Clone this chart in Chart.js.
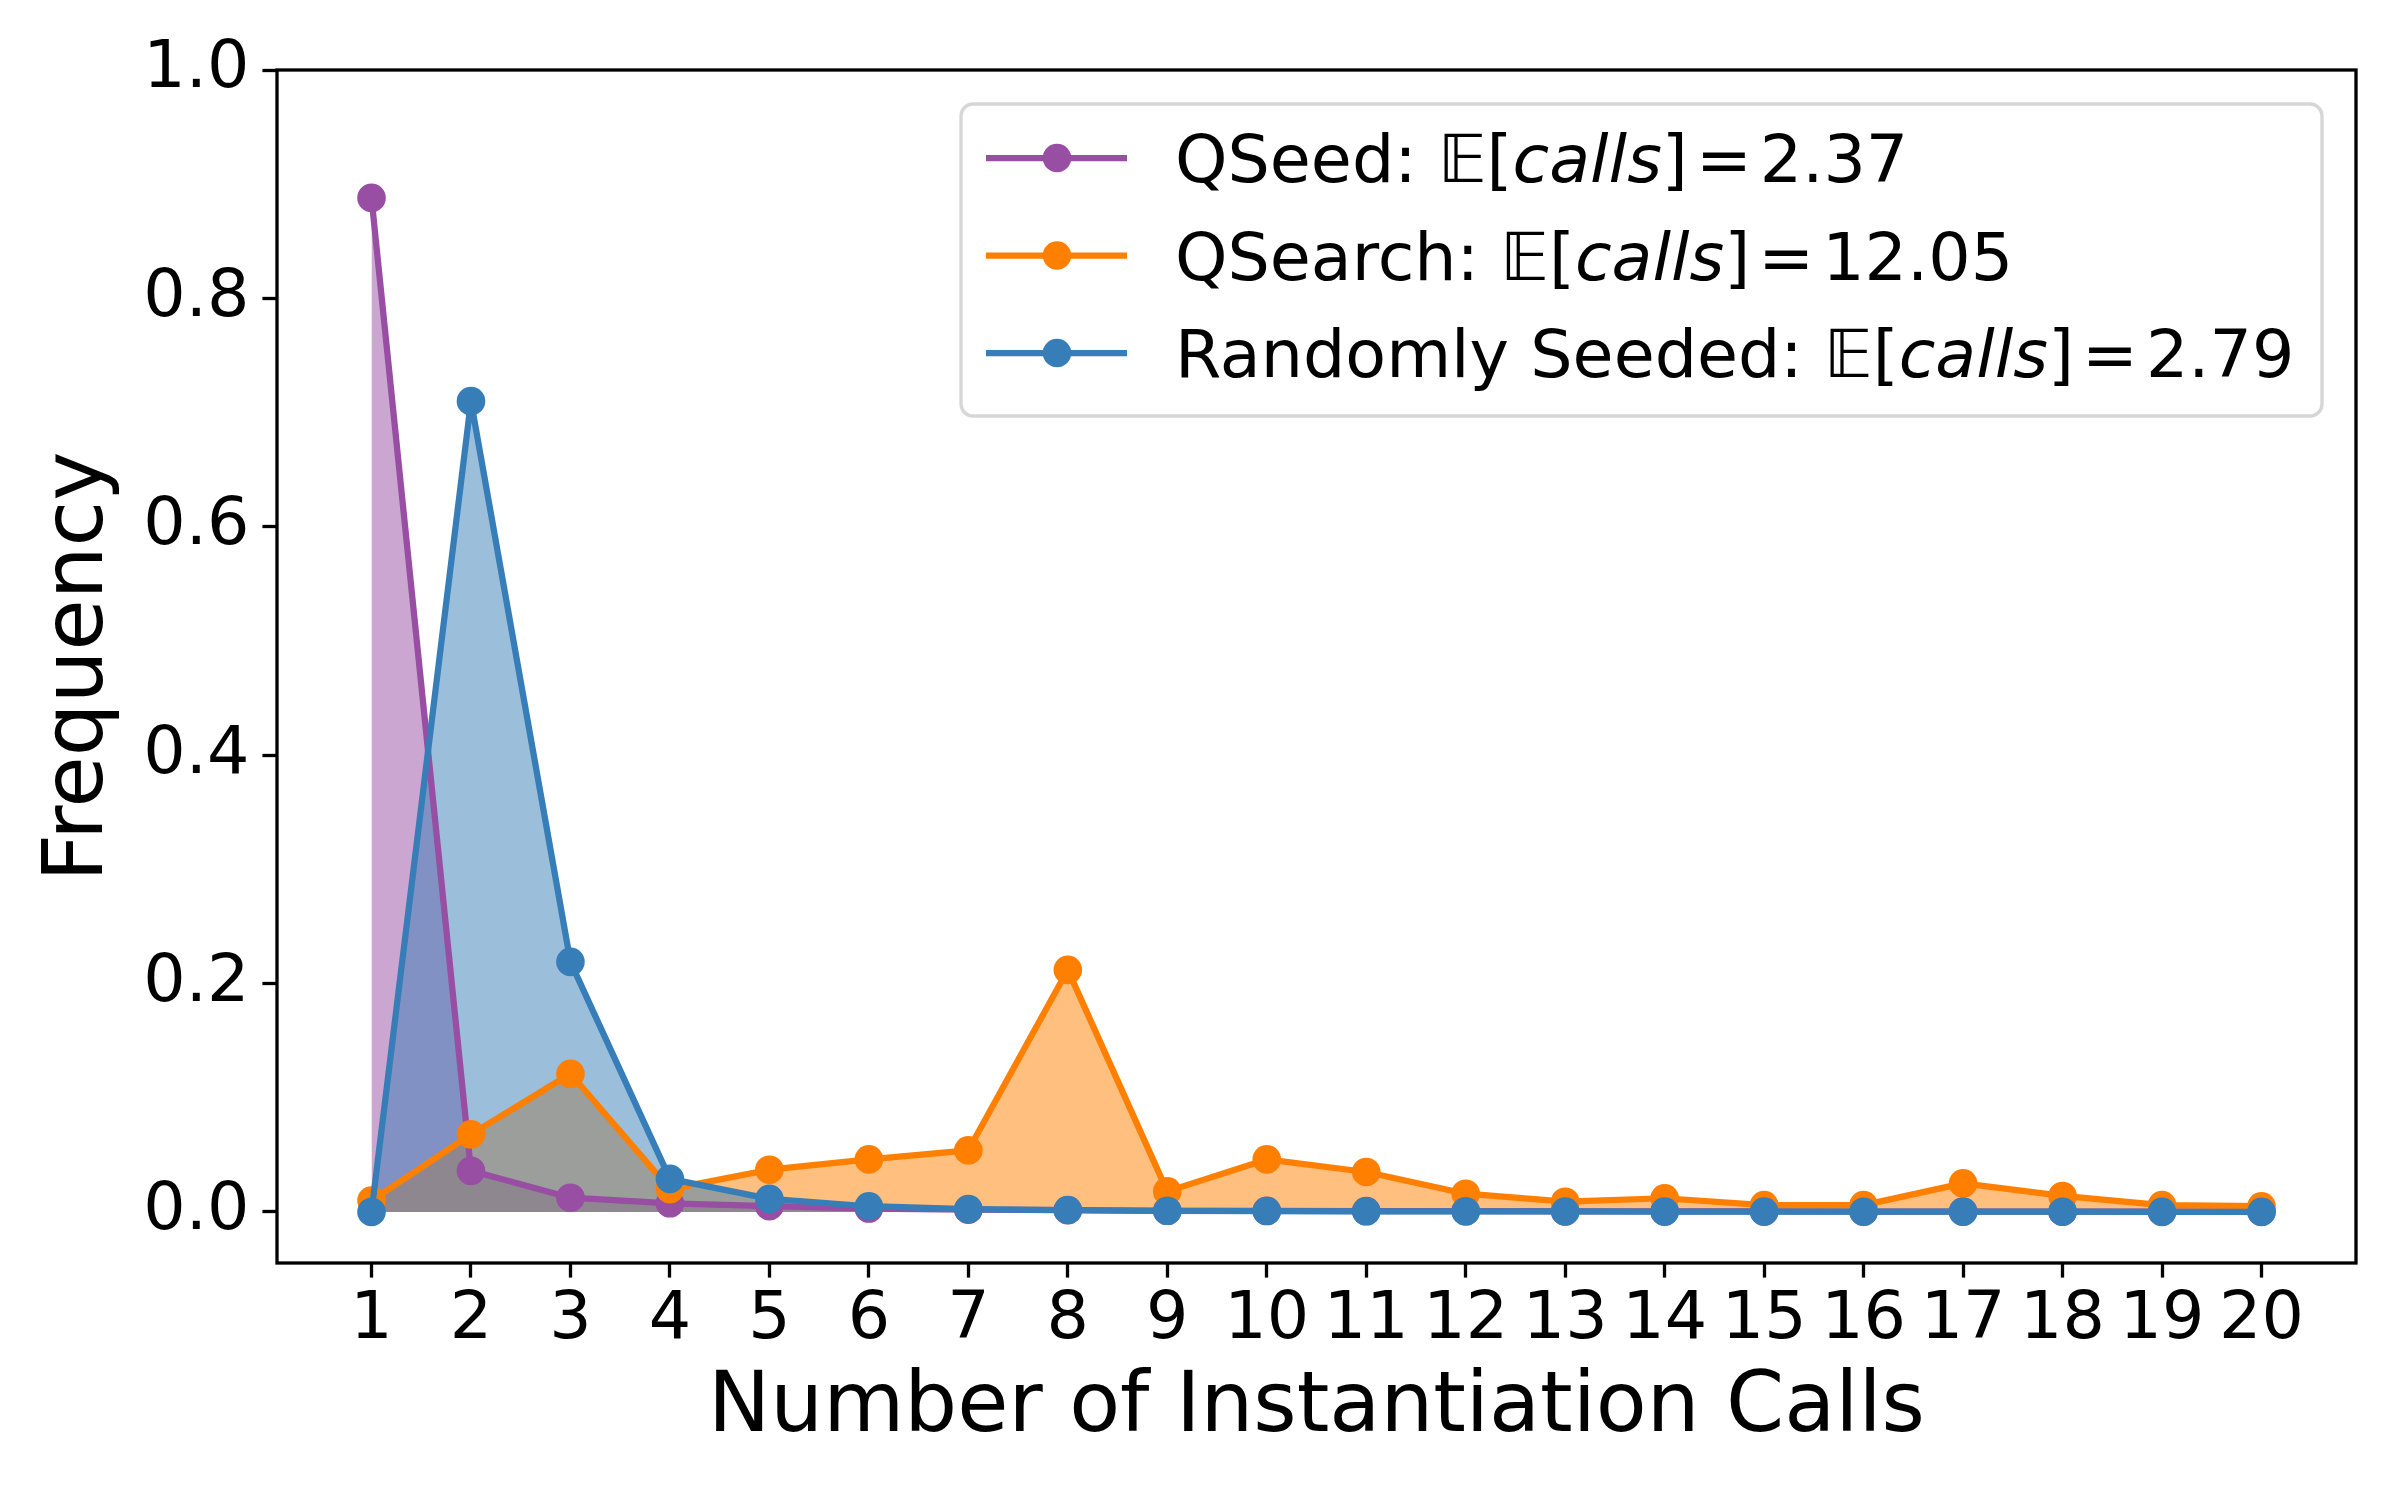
<!DOCTYPE html>
<html>
<head>
<meta charset="utf-8">
<script src="https://cdn.jsdelivr.net/npm/chart.js@4"></script>
<style>
  html, body { margin: 0; padding: 0; background: #fff; }
  #zone { width: 2400px; height: 1500px; }
</style>
</head>
<body>
<div id="zone"><canvas id="frequence-chart"></canvas></div>
<script>
// Données
const calls = [1, 2, 3, 4, 5, 6, 7, 8, 9, 10, 11, 12, 13, 14, 15, 16, 17, 18, 19, 20];
const qseed = [0.888, 0.036, 0.0125, 0.0076, 0.005, 0.003, 0.002, 0.0015, 0.001, 0.001,
               0.0008, 0.0008, 0.0005, 0.0005, 0.0004, 0.0003, 0.0003, 0.0002, 0.0002, 0.0002];
const qsearch = [0.010, 0.068, 0.121, 0.020, 0.037, 0.046, 0.054, 0.212, 0.018, 0.046,
                 0.035, 0.016, 0.009, 0.012, 0.006, 0.006, 0.025, 0.014, 0.006, 0.005];
const randomSeeded = [0.0, 0.710, 0.219, 0.029, 0.0115, 0.005, 0.0025, 0.0017, 0.001, 0.0008,
                      0.0006, 0.0005, 0.0004, 0.0003, 0.0003, 0.0002, 0.0002, 0.0002, 0.0001, 0.0001];
const yTicks = [0.0, 0.2, 0.4, 0.6, 0.8, 1.0];
const seriesNames = ['QSeed', 'QSearch', 'Randomly Seeded'];
const expectedCalls = ['2.37', '12.05', '2.79'];
const colors = ['#984ea3', '#ff7f00', '#377eb8'];
const fills = ['rgba(152,78,163,0.5)', 'rgba(255,127,0,0.5)', 'rgba(55,126,184,0.5)'];

const FONT = '"DejaVu Sans", sans-serif';

function makeDataset(i, values, order) {
    return {
        label: seriesNames[i],
        data: calls.map((c, k) => ({ x: c, y: values[k] })),
        borderColor: colors[i],
        backgroundColor: fills[i],
        borderWidth: 6.25,
        borderJoinStyle: 'round',
        borderCapStyle: 'round',
        fill: 'origin',
        pointRadius: 14.3,
        pointBorderWidth: 0,
        pointBackgroundColor: colors[i],
        pointHoverRadius: 14.3,
        tension: 0,
        order: order
    };
}

// Cadre noir autour de la zone du graphique
const cadrePlugin = {
    id: 'cadre',
    afterDatasetsDraw(chart) {
        const { ctx, chartArea } = chart;
        ctx.save();
        ctx.strokeStyle = '#000';
        ctx.lineWidth = 3.3;
        ctx.strokeRect(chartArea.left, chartArea.top,
                       chartArea.right - chartArea.left, chartArea.bottom - chartArea.top);
        ctx.restore();
    }
};

// Légende dessinée à la main (texte mathématique en italique)
const legendePlugin = {
    id: 'legende',
    afterDraw(chart) {
        const { ctx, chartArea } = chart;
        const boxRight = chartArea.right - 34;
        const boxLeft = boxRight - 1361;
        const boxTop = chartArea.top + 34;
        const boxBottom = boxTop + 312;
        ctx.save();
        ctx.beginPath();
        ctx.roundRect(boxLeft, boxTop, boxRight - boxLeft, boxBottom - boxTop, 12);
        ctx.fillStyle = 'rgba(255,255,255,0.8)';
        ctx.fill();
        ctx.strokeStyle = '#d6d6d6';
        ctx.lineWidth = 3.3;
        ctx.stroke();

        seriesNames.forEach((nom, i) => {
            const y = boxTop + 54 + i * 97.5;
            // trait + marqueur
            ctx.strokeStyle = colors[i];
            ctx.lineWidth = 6.25;
            ctx.beginPath();
            ctx.moveTo(boxLeft + 25, y);
            ctx.lineTo(boxLeft + 166, y);
            ctx.stroke();
            ctx.fillStyle = colors[i];
            ctx.beginPath();
            ctx.arc(boxLeft + 96, y, 14.3, 0, Math.PI * 2);
            ctx.fill();

            // texte : [contenu, italique, espace après]
            ctx.fillStyle = '#000';
            ctx.textBaseline = 'alphabetic';
            ctx.textAlign = 'left';
            const morceaux = [
                [nom + ': ', false, 0],
                ['\u{1D53C}', true, 0],
                ['[', false, 0],
                ['calls', true, 0],
                [']', false, 8],
                ['=', false, 8],
                [expectedCalls[i], false, 0]
            ];
            let x = boxLeft + 214;
            morceaux.forEach(([txt, italique, espace]) => {
                ctx.font = (italique ? 'italic ' : '') + '66.7px ' + FONT;
                ctx.fillText(txt, x, y + 24);
                x += ctx.measureText(txt).width + espace;
            });
        });
        ctx.restore();
    }
};

const ctx = document.getElementById('frequence-chart').getContext('2d');
new Chart(ctx, {
    type: 'line',
    data: {
        datasets: [
            makeDataset(0, qseed, 3),
            makeDataset(1, qsearch, 2),
            makeDataset(2, randomSeeded, 1)
        ]
    },
    options: {
        responsive: true,
        maintainAspectRatio: false,
        devicePixelRatio: 1,
        animation: false,
        layout: { padding: { left: 0, top: 70, right: 44, bottom: 0 } },
        plugins: {
            legend: { display: false },
            tooltip: { enabled: false },
            filler: { drawTime: 'beforeDatasetsDraw' }
        },
        scales: {
            x: {
                type: 'linear',
                min: 0.05,
                max: 20.95,
                afterBuildTicks: axis => { axis.ticks = calls.map(v => ({ value: v })); },
                afterFit: scale => { scale.height = 237; },
                border: { display: false },
                grid: {
                    display: true, drawOnChartArea: false, drawTicks: true,
                    tickLength: 14.6, tickWidth: 3.3, tickColor: '#000'
                },
                ticks: {
                    color: '#000', padding: 3, maxRotation: 0, autoSkip: false,
                    font: { family: FONT, size: 66.7 },
                    callback: v => String(v)
                },
                title: {
                    display: true, text: 'Number of Instantiation Calls', color: '#000',
                    font: { family: FONT, size: 83.3 },
                    padding: { top: 0, bottom: 41 }
                }
            },
            y: {
                type: 'linear',
                min: -0.0447,
                max: 1.0,
                afterBuildTicks: axis => { axis.ticks = yTicks.map(v => ({ value: v })); },
                afterFit: scale => { scale.width = 277; },
                border: { display: false },
                grid: {
                    display: true, drawOnChartArea: false, drawTicks: true,
                    tickLength: 14.6, tickWidth: 3.3, tickColor: '#000'
                },
                ticks: {
                    color: '#000', padding: 13,
                    font: { family: FONT, size: 66.7 },
                    callback: v => v.toFixed(1)
                },
                title: {
                    display: true, text: 'Frequency', color: '#000',
                    font: { family: FONT, size: 83.3 },
                    padding: { top: 30, bottom: 0 }
                }
            }
        }
    },
    plugins: [cadrePlugin, legendePlugin]
});
</script>
</body>
</html>
